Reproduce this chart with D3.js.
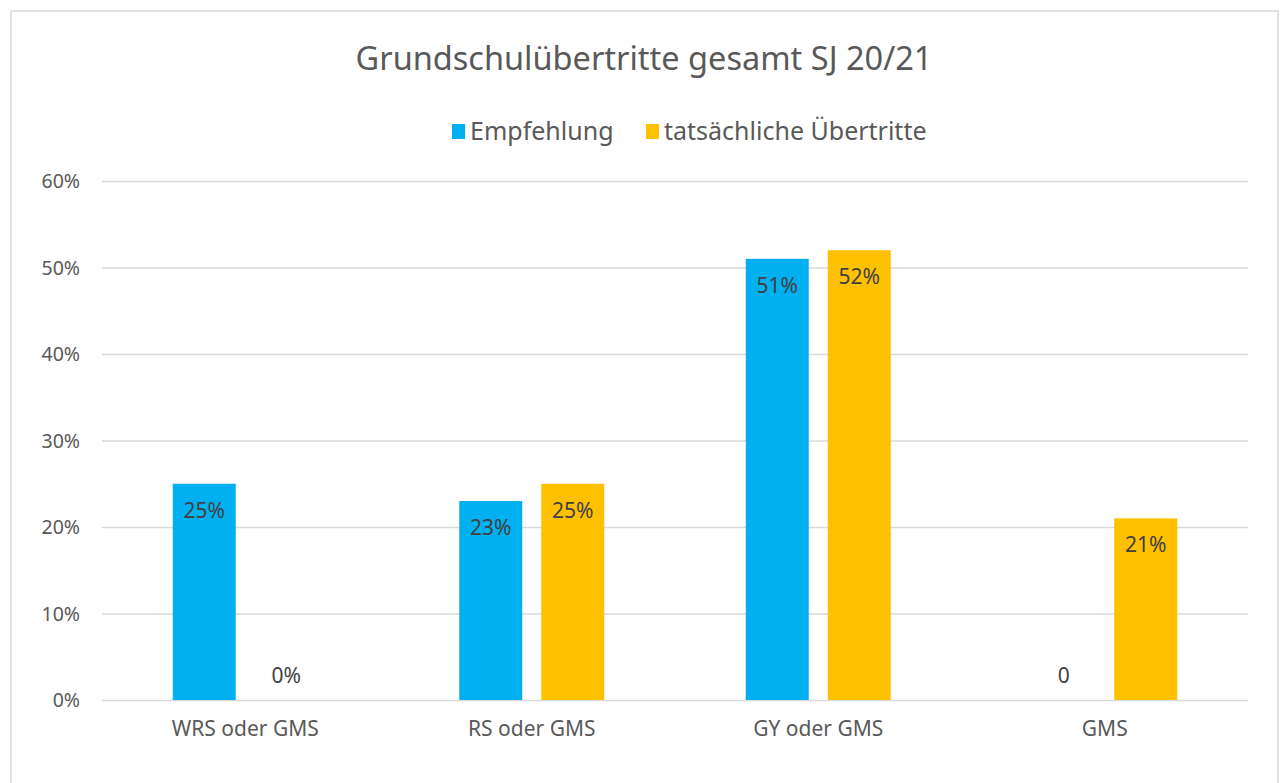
<!DOCTYPE html>
<html>
<head>
<meta charset="utf-8">
<script src="https://cdn.jsdelivr.net/npm/d3@7"></script>
<style>
  body { margin: 0; background: #fff; }
  text { font-family: "Noto Sans", "Open Sans", sans-serif; }
</style>
</head>
<body>
<div id="chart"></div>
<script>
// chart data
var categories = ["WRS oder GMS", "RS oder GMS", "GY oder GMS", "GMS"];
var seriesNames = ["Empfehlung", "tatsächliche Übertritte"];
var empfehlung = [0.25, 0.23, 0.51, 0];
var uebertritte = [0, 0.25, 0.52, 0.21];
// the workbook shows a bare "0" for the empty Empfehlung cell of GMS
var empfehlungLabels = ["25%", "23%", "51%", "0"];
var uebertritteLabels = ["0%", "25%", "52%", "21%"];
var yTicks = [0, 0.1, 0.2, 0.3, 0.4, 0.5, 0.6];
var colors = ["#00B0F0", "#FFC000"];

var width = 1282, height = 783;
var svg = d3.select("#chart").append("svg")
    .attr("width", width)
    .attr("height", height);

// outer chart border
svg.append("rect")
    .attr("x", 11).attr("y", 11)
    .attr("width", 1267).attr("height", 800)
    .attr("fill", "#fff")
    .attr("stroke", "#d9d9d9")
    .attr("stroke-width", 1.5);

var plot = { left: 102, right: 1248, top: 181, bottom: 700 };

var x0 = d3.scaleBand()
    .domain(categories)
    .range([plot.left, plot.right])
    .paddingInner(0.494)
    .paddingOuter(0.247);

var x1 = d3.scaleBand()
    .domain(seriesNames)
    .range([0, x0.bandwidth()])
    .paddingInner(0.232);

var y = d3.scaleLinear()
    .domain([0, 0.6])
    .range([plot.bottom, plot.top]);

// gridlines + y labels
var yAxis = d3.axisLeft(y)
    .tickValues(yTicks)
    .tickFormat(d3.format(".0%"))
    .tickSize(-(plot.right - plot.left))
    .tickPadding(22);

var gy = svg.append("g")
    .attr("transform", "translate(" + plot.left + ",0)")
    .call(yAxis);
gy.select(".domain").remove();
gy.selectAll(".tick line").attr("stroke", "#d9d9d9").attr("stroke-width", 1.3);
gy.selectAll(".tick text")
    .attr("fill", "#595959")
    .style("font-size", "19.5px")
    .attr("dy", "0.35em");

// x labels
var xAxis = d3.axisBottom(x0).tickSize(0).tickPadding(21);
var gx = svg.append("g")
    .attr("transform", "translate(0," + plot.bottom + ")")
    .call(xAxis);
gx.select(".domain").remove();
gx.selectAll(".tick text")
    .attr("fill", "#595959")
    .style("font-size", "21px");

// build rows for bars
var rows = [];
categories.forEach(function (c, i) {
    rows.push({ cat: c, series: seriesNames[0], value: empfehlung[i], label: empfehlungLabels[i], color: colors[0] });
    rows.push({ cat: c, series: seriesNames[1], value: uebertritte[i], label: uebertritteLabels[i], color: colors[1] });
});

svg.selectAll("rect.bar")
    .data(rows.filter(function (d) { return d.value > 0; }))
    .enter().append("rect")
    .attr("class", "bar")
    .attr("x", function (d) { return x0(d.cat) + x1(d.series); })
    .attr("y", function (d) { return y(d.value); })
    .attr("width", x1.bandwidth())
    .attr("height", function (d) { return y(0) - y(d.value); })
    .attr("fill", function (d) { return d.color; });

// value labels, inside the top of the bar, or just above the axis for zeros
svg.selectAll("text.val")
    .data(rows)
    .enter().append("text")
    .attr("class", "val")
    .attr("x", function (d) { return x0(d.cat) + x1(d.series) + x1.bandwidth() / 2; })
    .attr("y", function (d) { return d.value > 0 ? y(d.value) + 34 : y(0) - 17; })
    .attr("text-anchor", "middle")
    .attr("fill", "#404040")
    .style("font-size", "21px")
    .text(function (d) { return d.label; });

// title
svg.append("text")
    .attr("x", 644)
    .attr("y", 70)
    .attr("text-anchor", "middle")
    .attr("fill", "#595959")
    .style("font-size", "32.5px")
    .text("Grundschulübertritte gesamt SJ 20/21");

// legend
var legendX = [452, 646];
var legend = svg.selectAll("g.leg")
    .data(seriesNames)
    .enter().append("g")
    .attr("class", "leg")
    .attr("transform", function (d, i) { return "translate(" + legendX[i] + ",124)"; });
legend.append("rect")
    .attr("width", 13).attr("height", 15)
    .attr("fill", function (d, i) { return colors[i]; });
legend.append("text")
    .attr("x", 18)
    .attr("y", 16)
    .attr("fill", "#595959")
    .style("font-size", "25px")
    .text(function (d) { return d; });
</script>
</body>
</html>
